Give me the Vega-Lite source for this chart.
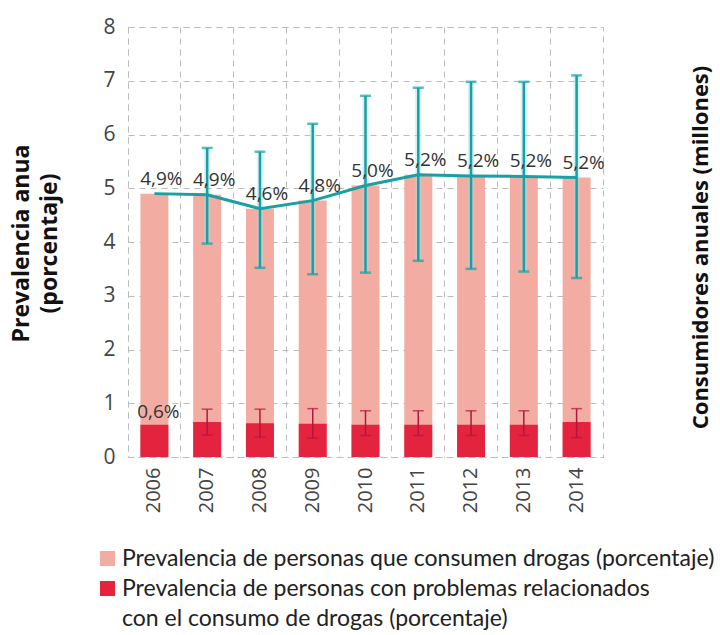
{
  "$schema": "https://vega.github.io/schema/vega-lite/v6.json",
  "width": 475,
  "height": 430,
  "autosize": {"type": "none"},
  "padding": {"left": 128, "top": 27, "right": 117, "bottom": 178},
  "background": "white",
  "data": {"values": [
    {"year": "2006", "prev": 4.9, "lo": null, "hi": null, "prob": 0.6, "plo": null, "phi": null, "label": "4,9%", "plabel": "0,6%"},
    {"year": "2007", "prev": 4.88, "lo": 3.97, "hi": 5.75, "prob": 0.65, "plo": 0.41, "phi": 0.89, "label": "4,9%", "plabel": ""},
    {"year": "2008", "prev": 4.62, "lo": 3.52, "hi": 5.68, "prob": 0.63, "plo": 0.37, "phi": 0.89, "label": "4,6%", "plabel": ""},
    {"year": "2009", "prev": 4.77, "lo": 3.4, "hi": 6.2, "prob": 0.62, "plo": 0.35, "phi": 0.9, "label": "4,8%", "plabel": ""},
    {"year": "2010", "prev": 5.05, "lo": 3.43, "hi": 6.72, "prob": 0.6, "plo": 0.4, "phi": 0.86, "label": "5,0%", "plabel": ""},
    {"year": "2011", "prev": 5.25, "lo": 3.65, "hi": 6.87, "prob": 0.6, "plo": 0.4, "phi": 0.86, "label": "5,2%", "plabel": ""},
    {"year": "2012", "prev": 5.23, "lo": 3.5, "hi": 6.98, "prob": 0.6, "plo": 0.4, "phi": 0.86, "label": "5,2%", "plabel": ""},
    {"year": "2013", "prev": 5.22, "lo": 3.45, "hi": 6.98, "prob": 0.6, "plo": 0.4, "phi": 0.86, "label": "5,2%", "plabel": ""},
    {"year": "2014", "prev": 5.2, "lo": 3.33, "hi": 7.1, "prob": 0.65, "plo": 0.36, "phi": 0.9, "label": "5,2%", "plabel": ""}
  ]},
  "encoding": {
    "x": {
      "field": "year", "type": "ordinal",
      "scale": {"paddingInner": 0, "paddingOuter": 0},
      "axis": {"title": null, "labelAngle": -90, "labelPadding": 10, "labelFontSize": 20, "grid": true, "bandPosition": 0}
    }
  },
  "layer": [
    {
      "encoding": {
        "y": {"type": "quantitative", "scale": {"domain": [0, 8]},
          "axis": {"values": [0,1,2,3,4,5,6,7,8], "title": ["Prevalencia anua", "(porcentaje)"], "titleFontSize": 23, "titleFontWeight": "bold", "titleX": -95, "titleY": 216, "titleAngle": -90, "titleAlign": "center", "titleBaseline": "bottom", "titleLineHeight": 28, "labelFontSize": 21, "labelPadding": 13}}
      },
      "layer": [
        {
          "mark": {"type": "bar", "width": {"band": 0.53}},
          "encoding": {
            "y": {"field": "prev", "type": "quantitative"},
            "color": {"datum": "Prevalencia de personas que consumen drogas (porcentaje)", "type": "nominal",
              "scale": {"domain": ["Prevalencia de personas que consumen drogas (porcentaje)", "Prevalencia de personas con problemas relacionados con el consumo de drogas (porcentaje)"], "range": ["#F2ACA1", "#E4233F"]},
              "legend": {"title": null, "orient": "none", "legendX": -32, "legendY": 520, "direction": "vertical", "symbolType": "square", "symbolSize": 225, "symbolStrokeWidth": 0, "labelFont": "Lato", "labelFontSize": 23, "labelColor": "#222", "labelLimit": 700, "rowPadding": 6, "labelOffset": 3,
                "labelExpr": "datum.label == 'Prevalencia de personas con problemas relacionados con el consumo de drogas (porcentaje)' ? ['Prevalencia de personas con problemas relacionados', 'con el consumo de drogas (porcentaje)'] : datum.label"}
            }
          }
        },
        {
          "mark": {"type": "bar", "width": {"band": 0.53}},
          "encoding": {
            "y": {"field": "prob", "type": "quantitative"},
            "color": {"datum": "Prevalencia de personas con problemas relacionados con el consumo de drogas (porcentaje)", "type": "nominal"}
          }
        },
        {
          "mark": {"type": "rule", "color": "#B5143C", "strokeWidth": 1.5},
          "encoding": {"y": {"field": "plo", "type": "quantitative"}, "y2": {"field": "phi"}}
        },
        {
          "mark": {"type": "tick", "color": "#B5143C", "thickness": 1.5, "size": 11},
          "encoding": {"y": {"field": "plo", "type": "quantitative"}}
        },
        {
          "mark": {"type": "tick", "color": "#B5143C", "thickness": 1.5, "size": 11},
          "encoding": {"y": {"field": "phi", "type": "quantitative"}}
        },
        {
          "mark": {"type": "rule", "color": "#9BE3EC", "strokeWidth": 6, "opacity": 0.45},
          "encoding": {"y": {"field": "lo", "type": "quantitative"}, "y2": {"field": "hi"}}
        },
        {
          "mark": {"type": "rule", "color": "#1A9FA3", "strokeWidth": 2.5},
          "encoding": {"y": {"field": "lo", "type": "quantitative"}, "y2": {"field": "hi"}}
        },
        {
          "mark": {"type": "tick", "color": "#1A9FA3", "thickness": 2.5, "size": 11},
          "encoding": {"y": {"field": "lo", "type": "quantitative"}}
        },
        {
          "mark": {"type": "tick", "color": "#1A9FA3", "thickness": 2.5, "size": 11},
          "encoding": {"y": {"field": "hi", "type": "quantitative"}}
        },
        {
          "mark": {"type": "text", "font": "Open Sans", "fontSize": 19, "color": "#333", "dx": 4, "dy": -7, "baseline": "alphabetic"},
          "encoding": {"y": {"field": "prob", "type": "quantitative"}, "text": {"field": "plabel"}}
        }
      ]
    },
    {
      "encoding": {
        "y": {"field": "prev", "type": "quantitative", "scale": {"domain": [0, 8]},
          "axis": {"orient": "right", "labels": false, "grid": false, "title": "Consumidores anuales (millones)", "titleFontSize": 22, "titleFontWeight": "bold", "titleAngle": -90, "titleX": 97, "titleY": 220, "titleAlign": "center", "titleBaseline": "middle"}}
      },
      "layer": [
        {
          "mark": {"type": "line", "color": "#1A9FA3", "strokeWidth": 3},
          "encoding": {}
        },
        {
          "mark": {"type": "text", "font": "Open Sans", "fontSize": 19, "color": "#333", "dx": 7, "dy": -9, "baseline": "alphabetic"},
          "encoding": {"text": {"field": "label"}}
        }
      ]
    }
  ],
  "resolve": {"scale": {"y": "independent"}, "axis": {"y": "independent"}},
  "config": {
    "view": {"stroke": "#bbbbbb", "strokeDash": [6, 5], "strokeWidth": 1},
    "style": {"guide-label": {"lineHeight": 30}},
    "axis": {"gridColor": "#bbbbbb", "gridDash": [6, 5], "gridWidth": 1, "domain": false, "ticks": false, "labelFont": "Open Sans", "labelColor": "#444", "titleFont": "Open Sans", "titleColor": "#111"}
  }
}
